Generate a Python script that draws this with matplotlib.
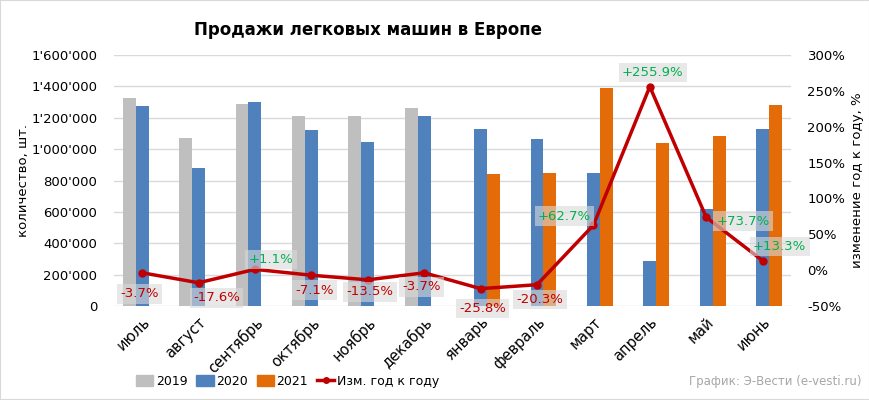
import numpy as np
import matplotlib.pyplot as plt
from matplotlib.ticker import FuncFormatter
from matplotlib.lines import Line2D
from matplotlib.patches import Patch, Rectangle

months = ['июль', 'август', 'сентябрь', 'октябрь', 'ноябрь', 'декабрь',
          'январь', 'февраль', 'март', 'апрель', 'май', 'июнь']
nan = np.nan
sales_2019 = [1324000, 1071000, 1287000, 1211000, 1211000, 1262000,
              nan, nan, nan, nan, nan, nan]
sales_2020 = [1275000, 880000, 1300000, 1122000, 1045000, 1211000,
              1128000, 1064000, 848000, 289000, 618000, 1128000]
sales_2021 = [nan, nan, nan, nan, nan, nan,
              841000, 848000, 1391000, 1039000, 1083000, 1281000]
yoy = [-3.7, -17.6, 1.1, -7.1, -13.5, -3.7, -25.8, -20.3, 62.7, 255.9, 73.7, 13.3]

# label offsets in pixels (dx, dy up)
offsets = [(-3, -21), (18, -15), (16, 10), (3, -15), (2, -12), (-3, -14),
           (2, -20), (3, -15), (-29, 9), (3, 14), (37, -4), (17, 14)]

fig = plt.figure(figsize=(8.7, 4), dpi=100)
ax = fig.add_axes([0.131, 0.235, 0.778, 0.6275])
ax2 = ax.twinx()

x = np.arange(len(months))
w = 0.23
ax.bar(x - w, sales_2019, w, color='#BFBFBF', label='2019')
ax.bar(x, sales_2020, w, color='#4F81BD', label='2020')
ax.bar(x + w, sales_2021, w, color='#E36C09', label='2021')

ax.set_xlim(-0.5, len(months) - 0.5)
ax.set_ylim(0, 1600000)
ax.set_yticks(np.arange(0, 1600001, 200000))
ax.yaxis.set_major_formatter(FuncFormatter(lambda v, p: f'{int(v):,}'.replace(',', "'")))
ax.grid(axis='y', color='#D9D9D9', linewidth=1)
ax.set_axisbelow(True)
ax.set_xticks(x)
ax.set_xticklabels(months, rotation=45, ha='right', rotation_mode='anchor')
ax.tick_params(axis='y', length=0, labelsize=9.5, pad=12)
ax.tick_params(axis='x', length=0, labelsize=10.5, pad=6)
ax.set_ylabel('количество, шт.', fontsize=9.5, labelpad=1)
for s in ax.spines.values():
    s.set_visible(False)

ax2.plot(x, yoy, color='#C00000', linewidth=2.5, marker='o', markersize=5)
ax2.set_ylim(-50, 300)
ax2.set_yticks(np.arange(-50, 301, 50))
ax2.yaxis.set_major_formatter(FuncFormatter(lambda v, p: f'{int(v)}%'))
ax2.tick_params(axis='y', length=0, labelsize=9.5, pad=12)
ax2.set_ylabel('изменение год к году, %', fontsize=9.5, labelpad=4)
for s in ax2.spines.values():
    s.set_visible(False)

for xi, v, (dx, dy) in zip(x, yoy, offsets):
    txt = f'+{v}%' if v > 0 else f'{v}%'
    col = '#00B050' if v > 0 else '#C00000'
    ax2.annotate(txt, (xi, v), xytext=(dx, dy), textcoords='offset pixels',
                 ha='center', va='center', fontsize=9.5, color=col,
                 bbox=dict(boxstyle='square,pad=0.25', facecolor='#D9D9D9',
                           edgecolor='none', alpha=0.6))

fig.text(0.423, 0.925, 'Продажи легковых машин в Европе', ha='center', va='center',
         fontsize=12, fontweight='bold')

handles = [Patch(color='#BFBFBF', label='2019'), Patch(color='#4F81BD', label='2020'),
           Patch(color='#E36C09', label='2021'),
           Line2D([], [], color='#C00000', linewidth=2.5, marker='o', markersize=4,
                  label='Изм. год к году')]
fig.legend(handles=handles, loc='center left', bbox_to_anchor=(0.143, 0.047), ncol=4,
           frameon=False, fontsize=9, handlelength=1.4, handleheight=0.9,
           columnspacing=0.7, handletextpad=0.2)

fig.text(0.99, 0.047, 'График: Э-Вести (e-vesti.ru)', ha='right', va='center',
         fontsize=8.5, color='#A6A6A6')

fig.patches.append(Rectangle((0, 0), 1, 1, transform=fig.transFigure, fill=False,
                             edgecolor='#D9D9D9', linewidth=1.5))

fig.savefig('out.png', dpi=100)
